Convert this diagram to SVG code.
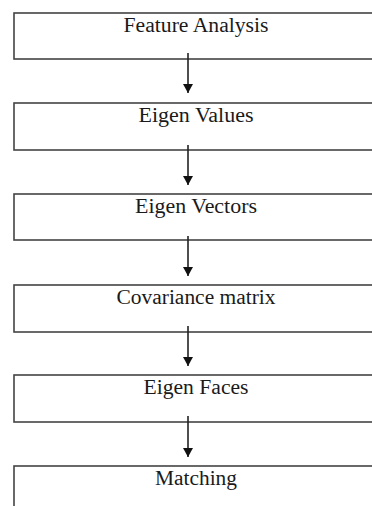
<svg xmlns="http://www.w3.org/2000/svg" width="372" height="506" viewBox="0 0 372 506">
<style>
.box{fill:#fff;stroke:#444;stroke-width:1.6}
.lbl{font-family:"Liberation Serif",serif;font-size:20px;fill:#1a1a1a;text-anchor:middle}
.conn{stroke:#222;stroke-width:1.6;fill:none}
</style>
<defs>
<marker id="ah" markerWidth="9" markerHeight="10" refX="9" refY="5" orient="auto" markerUnits="userSpaceOnUse" viewBox="0 0 9 10">
<path d="M0,0 L9,5 L0,10 Z" fill="#111"/>
</marker>
</defs>
<rect width="372" height="506" fill="#fff"/>
<g id="n1"><rect class="box" x="14" y="13" width="370" height="46"/><text class="lbl" x="196" y="32" textLength="145" lengthAdjust="spacingAndGlyphs">Feature Analysis</text></g>
<g id="n2"><rect class="box" x="14" y="103" width="370" height="47"/><text class="lbl" x="196" y="122" textLength="115" lengthAdjust="spacingAndGlyphs">Eigen Values</text></g>
<g id="n3"><rect class="box" x="14" y="194" width="370" height="46"/><text class="lbl" x="196" y="213" textLength="122" lengthAdjust="spacingAndGlyphs">Eigen Vectors</text></g>
<g id="n4"><rect class="box" x="14" y="285" width="370" height="47"/><text class="lbl" x="196" y="304" textLength="159" lengthAdjust="spacingAndGlyphs">Covariance matrix</text></g>
<g id="n5"><rect class="box" x="14" y="375" width="370" height="47"/><text class="lbl" x="196" y="394" textLength="105" lengthAdjust="spacingAndGlyphs">Eigen Faces</text></g>
<g id="n6"><rect class="box" x="14" y="466" width="370" height="60"/><text class="lbl" x="196" y="485" textLength="82" lengthAdjust="spacingAndGlyphs">Matching</text></g>
<g id="connectors">
<line class="conn" x1="188" y1="53" x2="188" y2="93" marker-end="url(#ah)"/>
<line class="conn" x1="188" y1="145" x2="188" y2="185" marker-end="url(#ah)"/>
<line class="conn" x1="188" y1="236" x2="188" y2="276" marker-end="url(#ah)"/>
<line class="conn" x1="188" y1="326" x2="188" y2="366" marker-end="url(#ah)"/>
<line class="conn" x1="188" y1="416" x2="188" y2="457" marker-end="url(#ah)"/>
</g>
</svg>
